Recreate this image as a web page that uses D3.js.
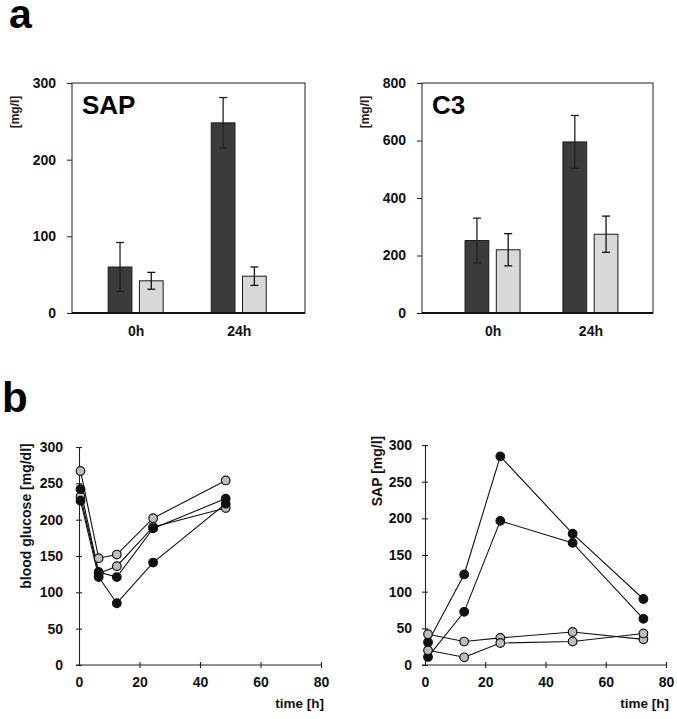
<!DOCTYPE html>
<html lang="en">
<head>
<meta charset="UTF-8">
<title>SAP, C3 and blood glucose</title>
<style>
  body { margin: 0; background: #fff; }
  svg { font-family: "Liberation Sans", Arial, sans-serif; }
</style>
</head>
<body>
<div id="chart"></div>
<script src="https://d3js.org/d3.v7.min.js"></script>
<script>
// ---- panel a: bar data (mean, error) ----
const barCats = ['0h', '24h']
const sapDark = [60, 248]
const sapDarkErr = [32, 33]
const sapLight = [42, 48]
const sapLightErr = [11, 12]
const sapTicks = [0, 100, 200, 300]

const c3Dark = [252, 595]
const c3DarkErr = [78, 92]
const c3Light = [220, 274]
const c3LightErr = [56, 63]
const c3Ticks = [0, 200, 400, 600, 800]

// ---- panel b: time courses ----
const glucoseTimes = [0.5, 6.5, 12.5, 24.5, 48.5]
const glucoseGrey1 = [267, 147, 152, 202, 254]
const glucoseGrey2 = [232, 126, 136, 190, 216]
const glucoseBlack1 = [242, 128, 121, 188, 229]
const glucoseBlack2 = [226, 121, 85, 141, 222]

const sapTimes = [1, 13, 25, 49, 72.5]
const sapGrey1 = [42, 32, 37, 45, 35]
const sapGrey2 = [20, 10.5, 30, 32, 43]
const sapBlack1 = [31, 123.5, 284.5, 179, 90]
const sapBlack2 = [11, 72.5, 196.5, 166.5, 63]

const lineTicks = [0, 50, 100, 150, 200, 250, 300]
const timeTicks = [0, 20, 40, 60, 80]

const width = 677
const height = 719
const darkFill = '#3b3b3b'
const lightFill = '#d8d8d8'
const greyDot = '#bdbdbd'

const svg = d3.select('#chart')
    .append('svg')
    .attr('width', width)
    .attr('height', height)

svg.append('text').attr('x', 9).attr('y', 28)
    .attr('font-size', 41).attr('font-weight', 'bold').text('a')
svg.append('text').attr('x', 2).attr('y', 412)
    .attr('font-size', 42).attr('font-weight', 'bold').text('b')

function barPanel(o) {
    const g = svg.append('g')
    const x = d3.scalePoint().domain(barCats)
        .range([o.left, o.right]).padding(o.pad).align(o.align)
    const inner = d3.scaleBand().domain(['dark', 'light'])
        .range([-27.5, 27.5]).paddingInner(0.24)
    const y = d3.scaleLinear().domain([0, o.max]).range([313, 83])

    const yAxis = g.append('g')
        .attr('transform', `translate(${o.left},0)`)
        .call(d3.axisLeft(y).tickValues(o.ticks).tickSize(5).tickSizeOuter(0).tickPadding(11))
    yAxis.select('.domain').remove()
    yAxis.selectAll('text').attr('font-size', 14).attr('font-weight', 'bold').attr('fill', '#111')
    yAxis.selectAll('line').attr('stroke', '#222')

    // frame
    g.append('rect')
        .attr('x', o.left).attr('y', y(o.max))
        .attr('width', o.right - o.left).attr('height', y(0) - y(o.max))
        .attr('fill', 'none').attr('stroke', '#222').attr('stroke-width', 1)

    const bars = []
    barCats.forEach((c, i) => {
        bars.push({ c, k: 'dark', v: o.dark[i], e: o.darkErr[i] })
        bars.push({ c, k: 'light', v: o.light[i], e: o.lightErr[i] })
    })

    g.selectAll('rect.bar').data(bars).enter().append('rect')
        .attr('class', 'bar')
        .attr('x', d => x(d.c) + inner(d.k))
        .attr('y', d => y(d.v))
        .attr('width', inner.bandwidth())
        .attr('height', d => y(0) - y(d.v))
        .attr('fill', d => d.k === 'dark' ? darkFill : lightFill)
        .attr('stroke', '#1a1a1a').attr('stroke-width', 1)

    // error bars: upper and lower whisker with caps
    const eb = g.selectAll('g.err').data(bars).enter().append('g')
        .attr('transform', d => `translate(${x(d.c) + inner(d.k) + inner.bandwidth() / 2},0)`)
        .attr('stroke', d => d.k === 'dark' ? '#222' : '#111').attr('stroke-width', 1.3)
    eb.append('line').attr('y1', d => y(d.v - d.e)).attr('y2', d => y(d.v + d.e))
    eb.append('line').attr('x1', -4).attr('x2', 4).attr('y1', d => y(d.v + d.e)).attr('y2', d => y(d.v + d.e))
    eb.append('line').attr('x1', -4).attr('x2', 4).attr('y1', d => y(d.v - d.e)).attr('y2', d => y(d.v - d.e))

    // thicker base line + category labels
    const xAxis = g.append('g').attr('transform', `translate(0,${y(0)})`)
        .call(d3.axisBottom(x).tickSize(0).tickPadding(13))
    xAxis.select('.domain').attr('d', `M${o.left},0H${o.right}`).attr('stroke', '#111').attr('stroke-width', 2)
    xAxis.selectAll('text').attr('font-size', 14).attr('font-weight', 'bold').attr('fill', '#111')

    g.append('text').attr('x', o.left + 10).attr('y', 114)
        .attr('font-size', 26).attr('font-weight', 'bold').text(o.title)
    g.append('text')
        .attr('transform', `translate(${o.labelX},112) rotate(-90)`)
        .attr('text-anchor', 'middle').attr('font-size', 12).attr('font-weight', 'bold')
        .attr('fill', '#222').text('[mg/l]')
}

barPanel({ left: 72, right: 305, pad: 0.63, align: 0.49, max: 300, ticks: sapTicks,
    dark: sapDark, darkErr: sapDarkErr, light: sapLight, lightErr: sapLightErr,
    title: 'SAP', labelX: 19 })
barPanel({ left: 422, right: 653, pad: 0.68, align: 0.53, max: 800, ticks: c3Ticks,
    dark: c3Dark, darkErr: c3DarkErr, light: c3Light, lightErr: c3LightErr,
    title: 'C3', labelX: 369 })

function linePanel(o) {
    const g = svg.append('g')
    const x = d3.scaleLinear().domain([0, 80]).range([o.left, o.right])
    const y = d3.scaleLinear().domain([0, 300]).range([665, o.top])

    const yAxis = g.append('g').attr('transform', `translate(${o.left},0)`)
        .call(d3.axisLeft(y).tickValues(lineTicks).tickSize(3).tickSizeOuter(0).tickPadding(o.ytp))
    yAxis.selectAll('.tick line').attr('x2', -3).attr('x1', 3)
    const xAxis = g.append('g').attr('transform', `translate(0,${y(0)})`)
        .call(d3.axisBottom(x).tickValues(timeTicks).tickSize(3).tickSizeOuter(0).tickPadding(9))
    xAxis.selectAll('.tick line').attr('y1', -3).attr('y2', 3)
    xAxis.selectAll('.tick').filter(d => d === 0).select('line').remove()
    xAxis.select('.domain').attr('d', `M${o.left - 3},0H${o.right}`)
    g.selectAll('.domain, .tick line').attr('stroke', '#222').attr('stroke-width', 1.1)
    g.selectAll('.tick text').attr('font-size', 14).attr('font-weight', 'bold').attr('fill', '#111')

    const line = d3.line().x(d => x(d[0])).y(d => y(d[1]))
    const series = o.series.map(s => ({ fill: s.fill, pts: o.times.map((t, i) => [t, s.values[i]]) }))
    g.selectAll('path.ser').data(series).enter().append('path')
        .attr('class', 'ser')
        .attr('d', d => line(d.pts))
        .attr('fill', 'none').attr('stroke', '#111').attr('stroke-width', 1.1)
    series.forEach(s => {
        g.selectAll(null).data(s.pts).enter().append('circle')
            .attr('cx', d => x(d[0])).attr('cy', d => y(d[1])).attr('r', 4.3)
            .attr('fill', s.fill).attr('stroke', '#111').attr('stroke-width', 1.2)
    })

    g.append('text')
        .attr('transform', `translate(${o.labelX},${o.labelY}) rotate(-90)`)
        .attr('text-anchor', 'middle').attr('font-size', 14).attr('font-weight', 'bold')
        .attr('fill', '#111').text(o.label)
    g.append('text').attr('x', o.right + 3).attr('y', 708).attr('text-anchor', 'end')
        .attr('font-size', 13.5).attr('font-weight', 'bold').attr('fill', '#111').text('time [h]')
}

linePanel({ left: 79, right: 321, top: 447, ytp: 13, labelX: 31, labelY: 516,
    label: 'blood glucose [mg/dl]', times: glucoseTimes,
    series: [
        { values: glucoseGrey2, fill: greyDot },
        { values: glucoseGrey1, fill: greyDot },
        { values: glucoseBlack1, fill: '#111' },
        { values: glucoseBlack2, fill: '#111' }
    ] })
linePanel({ left: 425, right: 666, top: 445, ytp: 10, labelX: 382, labelY: 471,
    label: 'SAP [mg/l]', times: sapTimes,
    series: [
        { values: sapBlack1, fill: '#111' },
        { values: sapBlack2, fill: '#111' },
        { values: sapGrey1, fill: greyDot },
        { values: sapGrey2, fill: greyDot }
    ] })
</script>
</body>
</html>
